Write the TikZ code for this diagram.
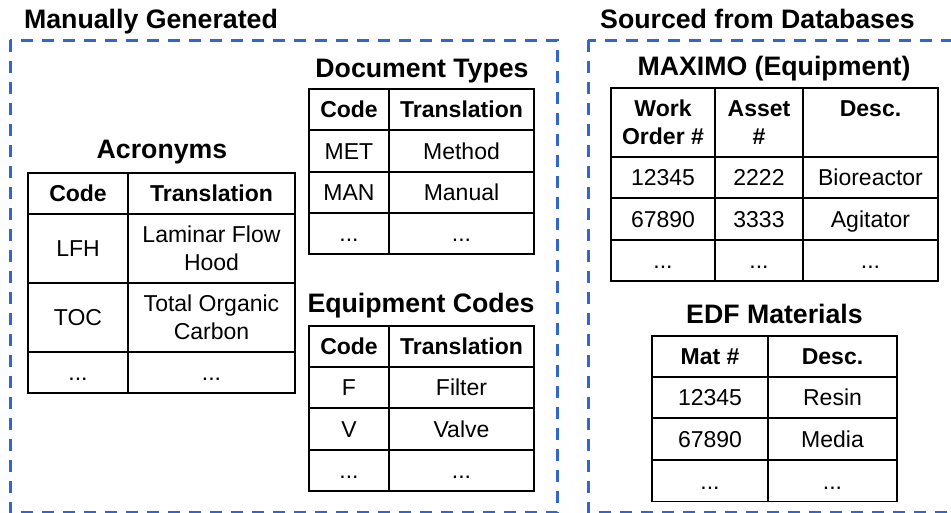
\documentclass[tikz,border=0pt]{standalone}
\usepackage{fontspec}
\setmainfont{Liberation Sans}
\usepackage{tikz}
\usetikzlibrary{positioning}
\definecolor{dashblue}{RGB}{51,102,204}

\begin{document}
\begin{tikzpicture}[
  x=1pt,
  y=-1pt
]

  \tikzstyle{groupbox}=[draw=dashblue,line width=3pt,dash pattern=on 12pt off 9pt]
  \tikzstyle{grouptitle}=[anchor=base,inner sep=0pt,font=\fontsize{26.7}{31}\selectfont\bfseries]
  \tikzstyle{tabletitle}=[anchor=base,inner sep=0pt,font=\fontsize{26.7}{31}\selectfont\bfseries]
  \tikzstyle{cell}=[draw,rectangle,line width=1.6pt,inner sep=0pt,align=center,text height=16.5pt,text depth=0pt,font=\fontsize{23}{28}\selectfont]
  \tikzstyle{headcell}=[cell,font=\fontsize{23}{28}\selectfont\bfseries]
  \tikzstyle{twoline}=[text height=,text depth=]

  \useasboundingbox (0,0) rectangle (951,512);

  % group boxes
  \draw[groupbox] (10,40) rectangle (557,512.5);
  \draw[groupbox] (588,40) rectangle (970,512.5);

  \node[grouptitle] (mantitle) at (151,28) {Manually Generated};
  \node[grouptitle] (dbtitle) at (757.5,28) {Sourced from Databases};

  % acronyms
  \node[tabletitle] (acrtitle) at (162,158) {Acronyms};
  \node[headcell,minimum width=100pt,minimum height=41pt] (acrh1) at (78,193.5) {Code};
  \node[headcell,minimum width=167pt,minimum height=41pt] (acrh2) at (211.5,193.5) {Translation};
  \node[cell,minimum width=100pt,minimum height=69pt] (acr11) at (78,248.5) {LFH};
  \node[cell,twoline,minimum width=167pt,minimum height=69pt] (acr12) at (211.5,248.5) {Laminar Flow\\Hood};
  \node[cell,minimum width=100pt,minimum height=69pt] (acr21) at (78,317.5) {TOC};
  \node[cell,twoline,minimum width=167pt,minimum height=69pt] (acr22) at (211.5,317.5) {Total Organic\\Carbon};
  \node[cell,minimum width=100pt,minimum height=41pt] (acr31) at (78,372.5) {...};
  \node[cell,minimum width=167pt,minimum height=41pt] (acr32) at (211.5,372.5) {...};

  % document types
  \node[tabletitle] (doctitle) at (422,77) {Document Types};
  \node[headcell,minimum width=80pt,minimum height=41pt] (doch1) at (349,109.5) {Code};
  \node[headcell,minimum width=145pt,minimum height=41pt] (doch2) at (461.5,109.5) {Translation};
  \node[cell,minimum width=80pt,minimum height=41pt] (doc11) at (349,151) {MET};
  \node[cell,minimum width=145pt,minimum height=41pt] (doc12) at (461.5,151) {Method};
  \node[cell,minimum width=80pt,minimum height=41pt] (doc21) at (349,192.5) {MAN};
  \node[cell,minimum width=145pt,minimum height=41pt] (doc22) at (461.5,192.5) {Manual};
  \node[cell,minimum width=80pt,minimum height=41pt] (doc31) at (349,233.5) {...};
  \node[cell,minimum width=145pt,minimum height=41pt] (doc32) at (461.5,233.5) {...};

  % equipment codes
  \node[tabletitle] (eqtitle) at (421,312) {Equipment Codes};
  \node[headcell,minimum width=80pt,minimum height=41pt] (eqh1) at (349,346.5) {Code};
  \node[headcell,minimum width=145pt,minimum height=41pt] (eqh2) at (461.5,346.5) {Translation};
  \node[cell,minimum width=80pt,minimum height=41pt] (eq11) at (349,387.5) {F};
  \node[cell,minimum width=145pt,minimum height=41pt] (eq12) at (461.5,387.5) {Filter};
  \node[cell,minimum width=80pt,minimum height=41pt] (eq21) at (349,429) {V};
  \node[cell,minimum width=145pt,minimum height=41pt] (eq22) at (461.5,429) {Valve};
  \node[cell,minimum width=80pt,minimum height=41pt] (eq31) at (349,470.5) {...};
  \node[cell,minimum width=145pt,minimum height=41pt] (eq32) at (461.5,470.5) {...};

  % maximo
  \node[tabletitle] (maxtitle) at (774,75) {MAXIMO (Equipment)};
  \node[headcell,twoline,minimum width=104pt,minimum height=69pt] (maxh1) at (663,122.5) {Work\\Order \#};
  \node[headcell,twoline,minimum width=88pt,minimum height=69pt] (maxh2) at (759,122.5) {Asset\\\#};
  \node[headcell,twoline,minimum width=135pt,minimum height=69pt] (maxh3) at (870.5,122.5) {Desc.\\\mbox{}};
  \node[cell,minimum width=104pt,minimum height=41pt] (max11) at (663,177.5) {12345};
  \node[cell,minimum width=88pt,minimum height=41pt] (max12) at (759,177.5) {2222};
  \node[cell,minimum width=135pt,minimum height=41pt] (max13) at (870.5,177.5) {Bioreactor};
  \node[cell,minimum width=104pt,minimum height=41pt] (max21) at (663,219) {67890};
  \node[cell,minimum width=88pt,minimum height=41pt] (max22) at (759,219) {3333};
  \node[cell,minimum width=135pt,minimum height=41pt] (max23) at (870.5,219) {Agitator};
  \node[cell,minimum width=104pt,minimum height=41pt] (max31) at (663,260.5) {...};
  \node[cell,minimum width=88pt,minimum height=41pt] (max32) at (759,260.5) {...};
  \node[cell,minimum width=135pt,minimum height=41pt] (max33) at (870.5,260.5) {...};

  % edf materials
  \node[tabletitle] (edftitle) at (774.5,323) {EDF Materials};
  \node[headcell,minimum width=116pt,minimum height=41pt] (edfh1) at (710,356.5) {Mat \#};
  \node[headcell,minimum width=129pt,minimum height=41pt] (edfh2) at (832.5,356.5) {Desc.};
  \node[cell,minimum width=116pt,minimum height=41pt] (edf11) at (710,397.5) {12345};
  \node[cell,minimum width=129pt,minimum height=41pt] (edf12) at (832.5,397.5) {Resin};
  \node[cell,minimum width=116pt,minimum height=41pt] (edf21) at (710,439) {67890};
  \node[cell,minimum width=129pt,minimum height=41pt] (edf22) at (832.5,439) {Media};
  \node[cell,minimum width=116pt,minimum height=41pt] (edf31) at (710,481) {...};
  \node[cell,minimum width=129pt,minimum height=41pt] (edf32) at (832.5,481) {...};

\end{tikzpicture}
\end{document}
